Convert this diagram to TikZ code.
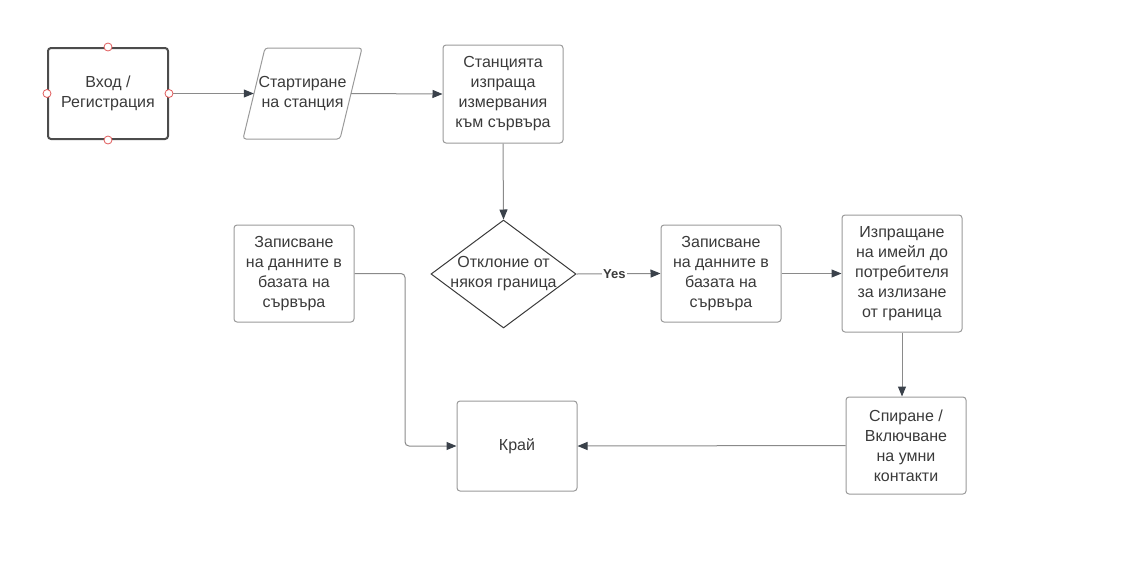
\documentclass[tikz,border=0pt]{standalone}
\usepackage{fontspec}
\setmainfont{Liberation Sans}
\usetikzlibrary{arrows.meta,shapes.geometric}
\definecolor{txt}{HTML}{3A3A3A}
\definecolor{bord}{HTML}{9A9A9A}
\definecolor{conn}{HTML}{8A8A8A}
\definecolor{tip}{HTML}{3A414A}
\definecolor{handle}{HTML}{E05A5A}
\begin{document}
\begin{tikzpicture}[x=1pt,y=-1pt,
  every node/.style={font=\fontsize{16}{20}\selectfont, text=txt},
  box/.style={draw=bord, line width=1pt, rounded corners=3pt, align=center, inner sep=0pt},
  conn/.style={draw=conn, line width=1pt, -{Triangle[length=10pt,width=8pt,color=tip]}},
  handle/.style={draw=handle, fill=white, line width=0.8pt}
]
\useasboundingbox (0,0) rectangle (1126,587);

% Start
\node[box, draw=black!70, line width=2pt, minimum width=120pt, minimum height=91pt] (start) at (108,93.5) {Вход /\\Регистрация};
% Parallelogram
\node[align=center, inner sep=0pt, minimum width=97pt, minimum height=91pt] (para) at (302.5,93.5) {Стартиране\\на станция};
\draw[draw=bord, line width=1pt, rounded corners=3pt] (265,48) -- (362,48) -- (340,139) -- (243,139) -- cycle;
% Station
\node[box, minimum width=120pt, minimum height=98pt] (station) at (503,94) {Станцията\\изпраща\\измервания\\към сървъра};
% Diamond
\node[draw=txt, line width=1pt, diamond, inner sep=0pt, minimum width=145pt, minimum height=108pt] (dec) at (503.5,274) {};
\node[align=center] (dectext) at (dec.center) {Отклоние от\\някоя граница};
% Record right
\node[box, minimum width=120pt, minimum height=97pt] (recR) at (721,273.5) {Записване\\на данните в\\базата на\\сървъра};
% Email
\node[box, minimum width=120pt, minimum height=117pt] (email) at (902,273.5) {Изпращане\\на имейл до\\потребителя\\за излизане\\от граница};
% Stop
\node[box, minimum width=120pt, minimum height=97pt] (stop) at (906,445.5) {Спиране /\\Включване\\на умни\\контакти};
% End
\node[box, minimum width=120pt, minimum height=90pt] (end) at (517,446) {Край};
% Record left
\node[box, minimum width=120pt, minimum height=97pt] (recL) at (294,273.5) {Записване\\на данните в\\базата на\\сървъра};

% Connectors
\draw[conn] (start.east) -- (para.west);
\draw[conn] (para.east) -- (station.west);
\draw[conn] (station.south) -- (dec.north);
\draw[conn] (dec.east) -- node[pos=0.45, fill=white, inner sep=1pt, font=\fontsize{13}{15}\selectfont\bfseries] (yes) {Yes} (recR.west);
\draw[conn] (recR.east) -- (email.west);
\draw[conn] (email.south) -- (email.south |- stop.north);
\draw[conn] (stop.west) -- (end.east);
\coordinate (bend) at (405,273.5);
\draw[conn, rounded corners=4pt] (recL.east) -- (bend) |- (end.west);

% Selection handles
\draw[handle] (start.north) circle (4pt);
\draw[handle] (start.south) circle (4pt);
\draw[handle] (start.west) circle (4pt);
\draw[handle] (start.east) circle (4pt);
\end{tikzpicture}
\end{document}
